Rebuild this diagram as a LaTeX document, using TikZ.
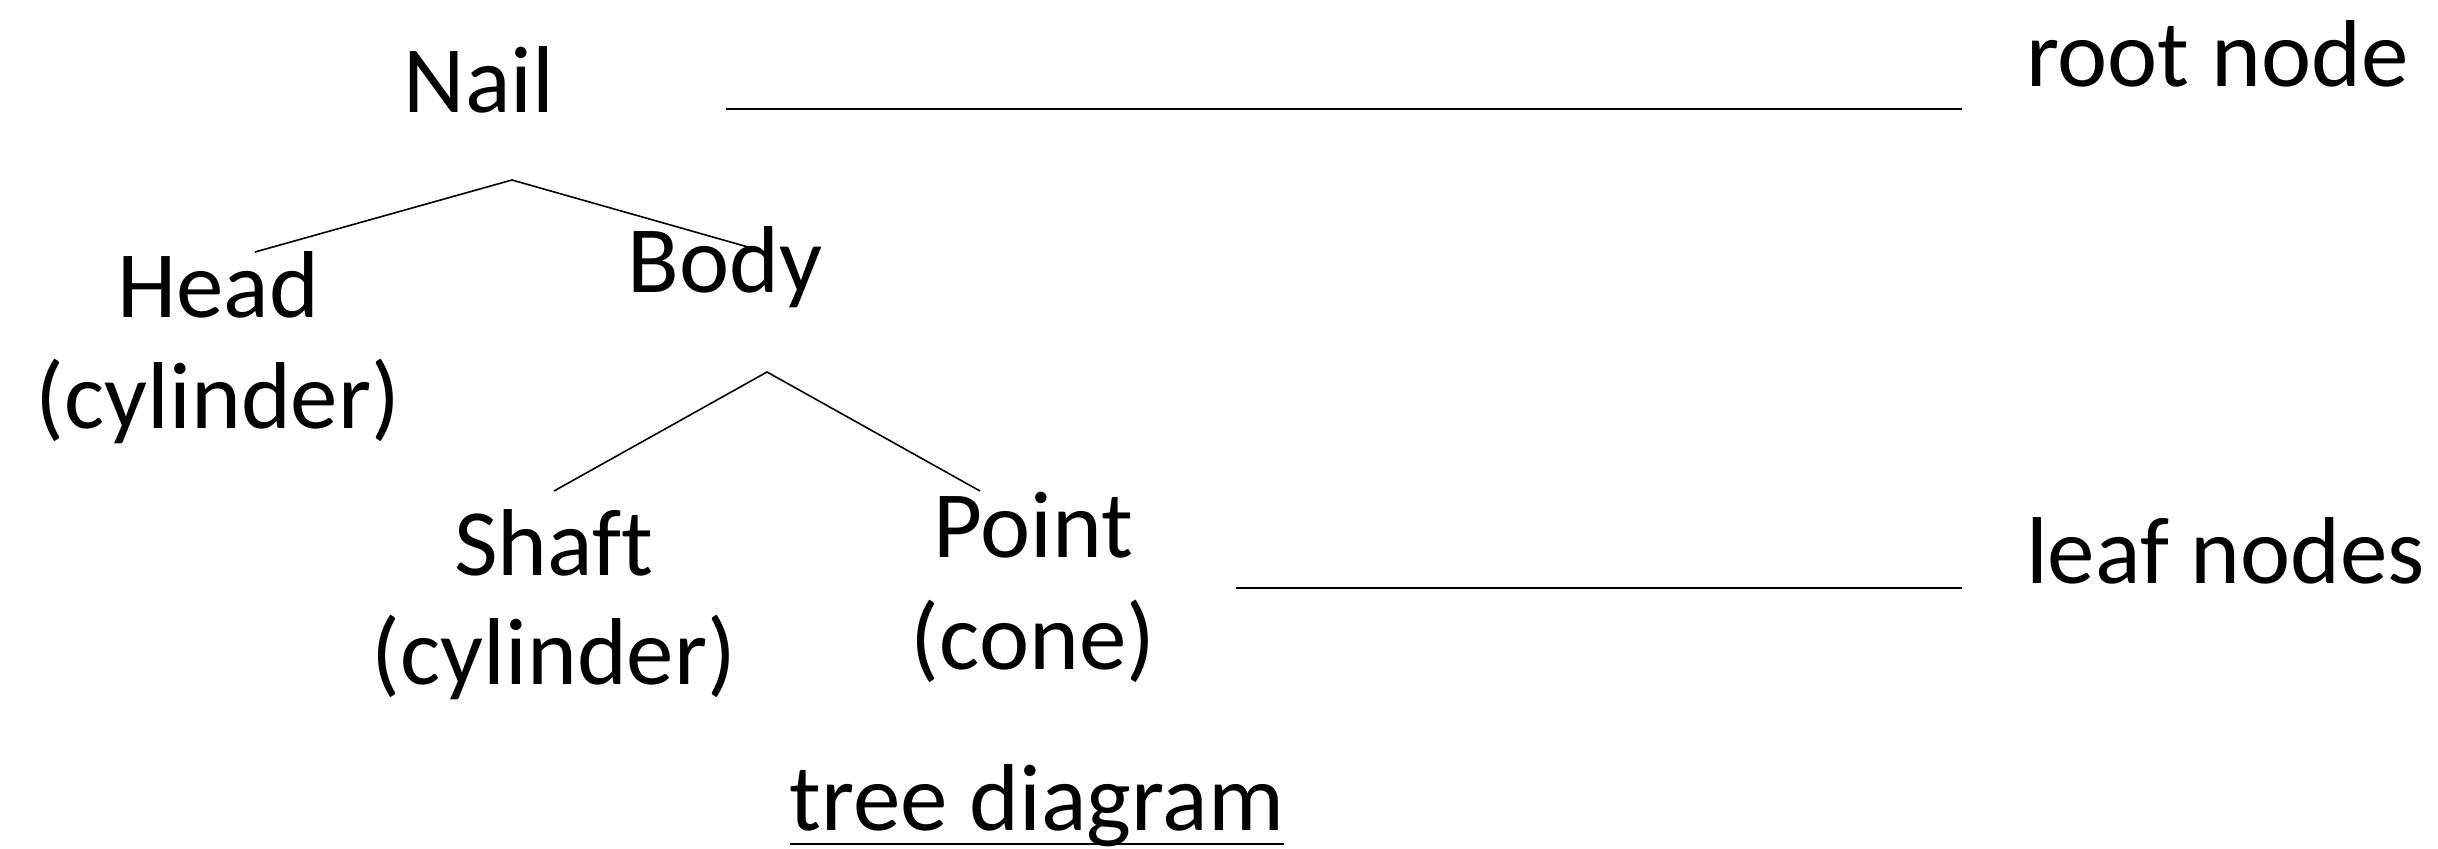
\documentclass[tikz,border=0pt]{standalone}
\usepackage{fontspec}
\setmainfont{Carlito}[Ligatures=NoCommon]
\usetikzlibrary{calc}
\begin{document}
\begin{tikzpicture}[x=1bp,y=-1bp,
  lbl/.style={font=\fontsize{95bp}{111bp}\selectfont, inner sep=0pt, anchor=base},
  conn/.style={line width=1.6bp, black}]
\useasboundingbox (0,0) rectangle (2438,848);

% tree labels
\node[lbl] (nail)   at (479,112) {Nail};
\node[lbl] (head)   at (218,317) {Head};
\node[lbl] (headc)  at (218,428) {(cylinder)};
\node[lbl] (body)   at (725,292) {Body};
\node[lbl] (shaft)  at (554,575) {Shaft};
\node[lbl] (shaftc) at (554,684) {(cylinder)};
\node[lbl] (point)  at (1033,557) {Point};
\node[lbl] (pointc) at (1033,669) {(cone)};

% side labels
\node[lbl, anchor=base west] (root) at (2026,86) {root node};
\node[lbl, anchor=base west] (leaf) at (2026,583) {leaf nodes};

% caption
\node[lbl] (diagram) at (1037,830) {tree diagram};
\draw[conn] ($(diagram.base west)+(0,14)$) -- ($(diagram.base east)+(0,14)$);

% branch points and branch ends
\coordinate (apexA) at (512,180);
\coordinate (endHead) at (255,252);
\coordinate (endBody) at (748,247);
\coordinate (apexB) at (767,372);
\coordinate (endShaft) at (554,491);
\coordinate (endPoint) at (980,491);

\draw[conn] (endHead) -- (apexA) -- (endBody);
\draw[conn] (endShaft) -- (apexB) -- (endPoint);

% leader lines to the side labels
\coordinate (rootL) at (726,109);
\coordinate (rootR) at (1962,109);
\coordinate (leafL) at (1236,588);
\coordinate (leafR) at (1962,588);
\draw[conn] (rootL) -- (rootR);
\draw[conn] (leafL) -- (leafR);
\end{tikzpicture}
\end{document}
